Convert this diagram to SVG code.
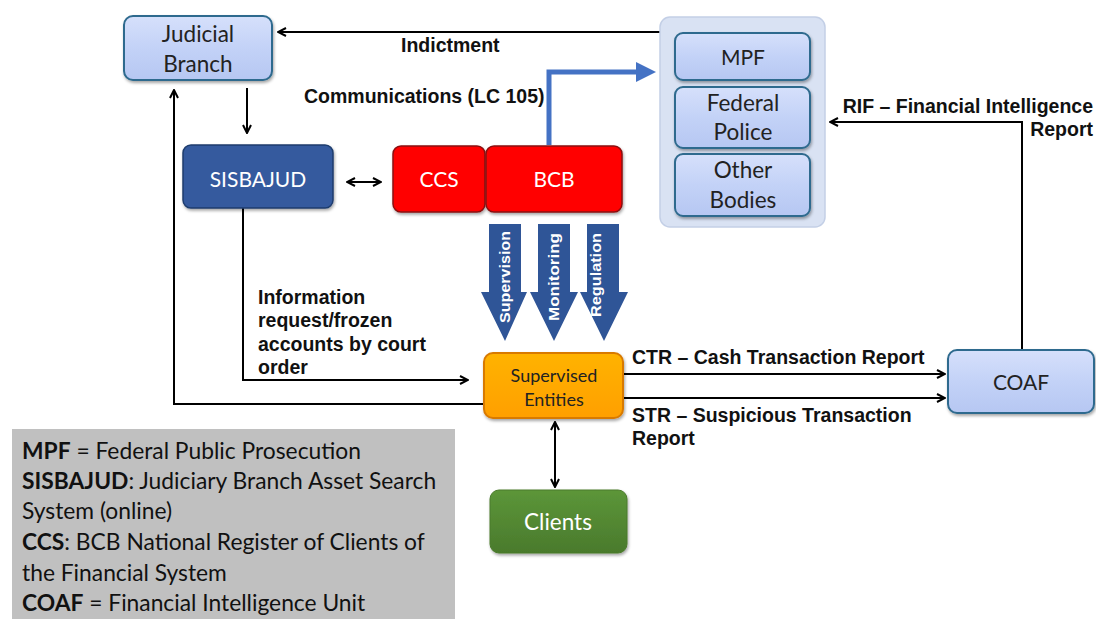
<svg xmlns="http://www.w3.org/2000/svg" width="1096" height="619" viewBox="0 0 1096 619">
<defs>
<linearGradient id="gLight" x1="0" y1="0" x2="0" y2="1"><stop offset="0" stop-color="#d6e0fb"/><stop offset="0.5" stop-color="#c3d2f7"/><stop offset="1" stop-color="#b6c7f2"/></linearGradient>
<linearGradient id="gOrange" x1="0" y1="0" x2="0" y2="1"><stop offset="0" stop-color="#ffb300"/><stop offset="1" stop-color="#ff9f00"/></linearGradient>
<linearGradient id="gGreen" x1="0" y1="0" x2="0" y2="1"><stop offset="0" stop-color="#5c9639"/><stop offset="1" stop-color="#4a7a2c"/></linearGradient>
<filter id="sh" x="-10%" y="-10%" width="130%" height="140%"><feDropShadow dx="1" dy="2" stdDeviation="1.5" flood-color="#000" flood-opacity="0.35"/></filter>
<marker id="ah" viewBox="0 0 10 10" refX="9" refY="5" markerWidth="10" markerHeight="10" markerUnits="userSpaceOnUse" orient="auto-start-reverse"><path d="M1,1 L9,5 L1,9" fill="none" stroke="#000" stroke-width="2"/></marker>
<marker id="bh" viewBox="0 0 10 10" refX="2" refY="5" markerWidth="4" markerHeight="4" orient="auto"><path d="M0,0 L10,5 L0,10 z" fill="#4472c4"/></marker>
</defs>
<style>
.lb{fill:url(#gLight);stroke:#2e6a8e;stroke-width:2}
.nt{font-family:Lato,"Open Sans",sans-serif;font-size:22.5px;fill:#222;text-anchor:middle}
.sm{font-size:18px}
.md{font-size:21px}
.wt{font-family:Lato,"Open Sans",sans-serif;font-size:21px;fill:#fff;text-anchor:middle}
.wl{font-size:22.5px}
.cl{font-family:"Liberation Sans",Arial,sans-serif;font-weight:bold;font-size:19.5px;fill:#111}
.ln{fill:none;stroke:#000;stroke-width:2}
.ar{font-family:"Liberation Sans",Arial,sans-serif;font-weight:bold;font-size:14px;fill:#fff;text-anchor:middle}
.lg{font-family:Lato,"Open Sans",sans-serif;font-size:22.8px;fill:#111}
</style>
<rect width="1096" height="619" fill="#fff"/>

<g id="legend">
<rect x="12" y="429" width="443" height="190" fill="#c0c0c0"/>
<text class="lg" x="22" y="459"><tspan font-weight="bold">MPF</tspan> = Federal Public Prosecution</text>
<text class="lg" x="22" y="489"><tspan font-weight="bold">SISBAJUD</tspan>: Judiciary Branch Asset Search</text>
<text class="lg" x="22" y="519">System (online)</text>
<text class="lg" x="22" y="550"><tspan font-weight="bold">CCS</tspan>: BCB National Register of Clients of</text>
<text class="lg" x="22" y="581">the Financial System</text>
<text class="lg" x="22" y="611"><tspan font-weight="bold">COAF</tspan> = Financial Intelligence Unit</text>
</g>

<g id="connectors">
<line class="ln" x1="660" y1="32" x2="278" y2="32" marker-end="url(#ah)"/>
<text class="cl" x="401" y="52">Indictment</text>
<line class="ln" x1="247" y1="88" x2="247" y2="133" marker-end="url(#ah)"/>
<line class="ln" x1="347" y1="182" x2="381" y2="182" marker-start="url(#ah)" marker-end="url(#ah)"/>
<path d="M549,145 V72 H640" fill="none" stroke="#4472c4" stroke-width="5" marker-end="url(#bh)"/>
<text class="cl" x="304" y="103">Communications (LC 105)</text>
<path class="ln" d="M1022,350 V122 H830" marker-end="url(#ah)"/>
<text class="cl" x="1093" y="113" text-anchor="end">RIF – Financial Intelligence</text>
<text class="cl" x="1093" y="136" text-anchor="end">Report</text>
<path class="ln" d="M243,208 V380 H468" marker-end="url(#ah)"/>
<text class="cl" x="258" y="304">Information</text>
<text class="cl" x="258" y="327">request/frozen</text>
<text class="cl" x="258" y="351">accounts by court</text>
<text class="cl" x="258" y="374">order</text>
<path class="ln" d="M484,404 H174 V90" marker-end="url(#ah)"/>
<line class="ln" x1="623" y1="374" x2="945" y2="374" marker-end="url(#ah)"/>
<text class="cl" x="632" y="364">CTR – Cash Transaction Report</text>
<line class="ln" x1="623" y1="398" x2="945" y2="398" marker-end="url(#ah)"/>
<text class="cl" x="632" y="422">STR – Suspicious Transaction</text>
<text class="cl" x="632" y="445">Report</text>
<line class="ln" x1="555" y1="422" x2="555" y2="487" marker-start="url(#ah)" marker-end="url(#ah)"/>
</g>

<g id="judicial">
<rect class="lb" x="124" y="16" width="148" height="64" rx="9" filter="url(#sh)"/>
<text class="nt" x="198" y="42">Judicial</text>
<text class="nt" x="198" y="72">Branch</text>
</g>

<g id="sisbajud">
<rect x="183" y="145" width="150" height="63" rx="8" fill="#345a9e" stroke="#1f3d6e" stroke-width="1.5" filter="url(#sh)"/>
<text class="wt" x="258" y="187">SISBAJUD</text>
</g>

<g id="ccs">
<rect x="393" y="146" width="92" height="66" rx="8" fill="#ff0000" stroke="#8a1010" stroke-width="1.5" filter="url(#sh)"/>
<text class="wt" x="439" y="187">CCS</text>
</g>
<g id="bcb">
<rect x="486" y="146" width="136" height="66" rx="8" fill="#ff0000" stroke="#8a1010" stroke-width="1.5" filter="url(#sh)"/>
<text class="wt" x="554" y="187">BCB</text>
</g>

<g id="authorities">
<rect x="660" y="17" width="165" height="210" rx="10" fill="#d9e2f3" stroke="#c3cfe6" stroke-width="1.5"/>
<g id="mpf"><rect class="lb" x="675" y="33" width="135" height="47" rx="8" filter="url(#sh)"/><text class="nt md" x="743" y="65">MPF</text></g>
<g id="federal-police"><rect class="lb" x="675" y="87" width="135" height="61" rx="8" filter="url(#sh)"/><text class="nt" x="743" y="111">Federal</text><text class="nt" x="743" y="140">Police</text></g>
<g id="other-bodies"><rect class="lb" x="675" y="154" width="135" height="62" rx="8" filter="url(#sh)"/><text class="nt" x="743" y="178">Other</text><text class="nt" x="743" y="208">Bodies</text></g>
</g>

<g id="bcb-actions">
<path d="M489,224 H521 V292 H527 L505,341 L481,292 H489 Z" fill="#2f5597"/>
<path d="M538,224 H570 V292 H578 L554,341 L530,292 H538 Z" fill="#2f5597"/>
<path d="M587,224 H619 V292 H628 L604,341 L580,292 H587 Z" fill="#2f5597"/>
<text class="ar" transform="translate(510,277) rotate(-90)" textLength="92" lengthAdjust="spacingAndGlyphs">Supervision</text>
<text class="ar" transform="translate(559,277) rotate(-90)" textLength="88" lengthAdjust="spacingAndGlyphs">Monitoring</text>
<text class="ar" transform="translate(601,275) rotate(-90)" textLength="84" lengthAdjust="spacingAndGlyphs">Regulation</text>
</g>

<g id="supervised">
<rect x="484" y="353" width="139" height="65" rx="9" fill="url(#gOrange)" stroke="#d87a00" stroke-width="2" filter="url(#sh)"/>
<text class="nt sm" x="554" y="382">Supervised</text>
<text class="nt sm" x="554" y="406">Entities</text>
</g>

<g id="coaf">
<rect class="lb" x="948" y="350" width="146" height="63" rx="9" filter="url(#sh)"/>
<text class="nt md" x="1021" y="390">COAF</text>
</g>

<g id="clients">
<rect x="490" y="490" width="137" height="63" rx="9" fill="url(#gGreen)" stroke="#4a7a2c" stroke-width="1" filter="url(#sh)"/>
<text class="wt wl" x="558" y="530">Clients</text>
</g>
</svg>
